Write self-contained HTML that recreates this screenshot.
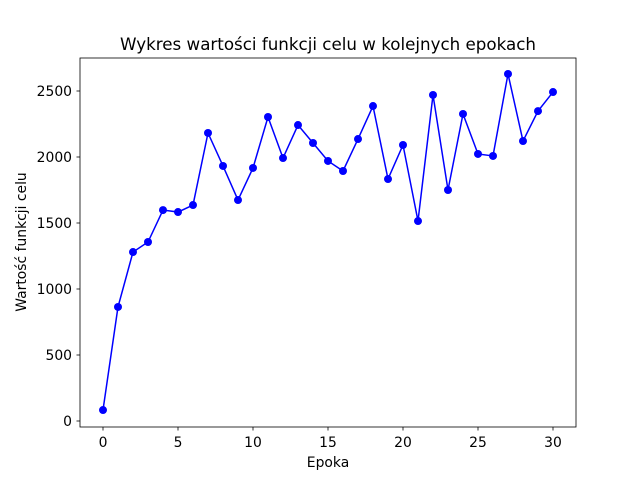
<!DOCTYPE html>
<html><head><meta charset="utf-8"><style>body{margin:0;background:#fff}svg{display:block;font-family:"DejaVu Sans","Liberation Sans",sans-serif}</style></head>
<body>
<svg id="chart" width="640" height="480" viewBox="0 0 640 480">
<rect x="0" y="0" width="640" height="480" fill="#fff"/>
<text x="328" y="50" text-anchor="middle" font-size="16.7">Wykres wartości funkcji celu w kolejnych epokach</text>
<text x="328" y="467" text-anchor="middle" font-size="13.9">Epoka</text>
<text transform="translate(26,242) rotate(-90)" text-anchor="middle" font-size="13.9">Wartość funkcji celu</text>
<g id="ticks"></g>
<g id="plot"></g>
<rect x="80" y="58" width="496" height="369" fill="none" stroke="#000" stroke-width="0.8"/>
</svg>
<script>
const epochs=[0,1,2,3,4,5,6,7,8,9,10,11,12,13,14,15,16,17,18,19,20,21,22,23,24,25,26,27,28,29,30];
const values=[83,864,1280,1356,1598,1583,1636,2182,1932,1674,1917,2303,1992,2242,2106,1970,1894,2136,2386,1833,2091,1515,2470,1750,2326,2023,2008,2629,2121,2348,2492];
const xTicks=[0,5,10,15,20,25,30];
const yTicks=[0,500,1000,1500,2000,2500];
const NS="http://www.w3.org/2000/svg";
const xs=v=>103+v*15;
const ys=v=>421-v*0.132;
function mk(t,a,p){const e=document.createElementNS(NS,t);for(const k in a)e.setAttribute(k,a[k]);p.appendChild(e);return e;}
const tg=document.getElementById('ticks'),pg=document.getElementById('plot');
xTicks.forEach(t=>{
 const l=mk('line',{x1:xs(t),x2:xs(t),y1:427,y2:430.5,stroke:'#000','stroke-width':0.8},tg);
 
 
 const s=mk('text',{x:xs(t),y:447,'text-anchor':'middle','font-size':13.9},tg);s.textContent=t;
 
 
});
yTicks.forEach(t=>{
 const l=mk('line',{x1:76.5,x2:80,y1:ys(t),y2:ys(t),stroke:'#000','stroke-width':0.8},tg);
 
 
 const s=mk('text',{x:72,y:ys(t)+5,'text-anchor':'end','font-size':13.9},tg);s.textContent=t;
 
 
});
const line=mk('polyline',{points:epochs.map((e,i)=>xs(e)+','+ys(values[i])).join(' '),fill:'none',stroke:'#0000ff','stroke-width':1.5},pg);


epochs.forEach((e,i)=>{
 const c=mk('circle',{cx:xs(e),cy:ys(values[i]),r:4,fill:'#0000ff'},pg);
 
 
});
</script>
</body></html>
